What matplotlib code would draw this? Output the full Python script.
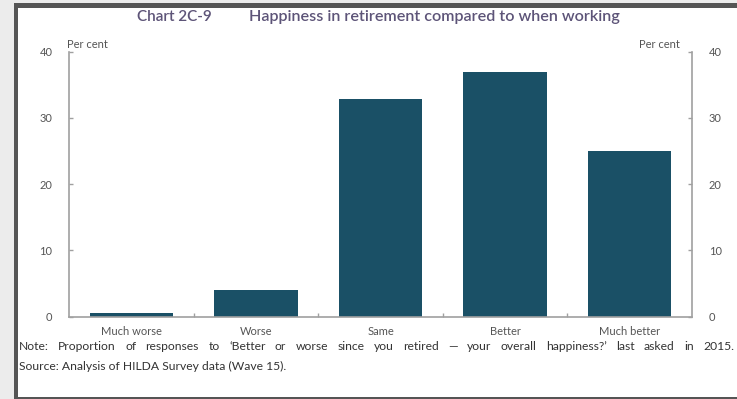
import matplotlib.pyplot as plt
from matplotlib.patches import Rectangle
from matplotlib.font_manager import FontProperties
from matplotlib.backends.backend_agg import RendererAgg
import numpy as np

# Happiness in retirement compared to when working
categorias = ['Much worse', 'Worse', 'Same', 'Better', 'Much better']
valores = [0.6, 4.0, 32.8, 36.9, 25.0]
yticks = [0, 10, 20, 30, 40]

nota = ('Note: Proportion of responses to \u2018Better or worse since you retired \u2014 '
        'your overall happiness?\u2019 last asked in 2015.')
fonte = 'Source: Analysis of HILDA Survey data (Wave 15).'

cor_barra = '#1a5066'
cor_eixo = '#a0a0a0'
cor_texto = '#555555'
cor_titulo = '#5d5478'

plt.rcParams['font.family'] = ['Lato', 'DejaVu Sans']

W, H = 737, 399
fig = plt.figure(figsize=(W / 100, H / 100), dpi=100)
fig.patch.set_facecolor('#ececec')

# painel branco e moldura cinza escura (esquerda, topo, base)
fig.add_artist(Rectangle((14 / W, 0), 1, 396 / H, transform=fig.transFigure,
                         facecolor='white', edgecolor='none', zorder=0))
for (x0, y0, w, h) in [(14, 0, 4, 396), (14, 391, 730, 5), (14, 0, 730, 2.5)]:
    fig.add_artist(Rectangle((x0 / W, y0 / H), w / W, h / H, transform=fig.transFigure,
                             facecolor='#555555', edgecolor='none', zorder=10))

ax = fig.add_axes([69 / W, 1 - 316.5 / H, 623 / W, 264.8 / H])
ax.set_zorder(3)
ax.set_facecolor('white')
x = np.arange(len(categorias))
ax.bar(x, valores, width=0.67, color=cor_barra, zorder=2)

ax.set_xlim(-0.5, len(categorias) - 0.5)
ax.set_ylim(0, 40)
ax.set_yticks(yticks)
ax.set_xticks(x)
ax.set_xticklabels(categorias)
ax.set_xticks(x[:-1] + 0.5, minor=True)

for s in ['left', 'right', 'bottom']:
    ax.spines[s].set_color(cor_eixo)
    ax.spines[s].set_linewidth(1.2)
ax.spines['top'].set_visible(False)

ax.tick_params(axis='x', which='major', length=0, pad=7, labelsize=8, labelcolor=cor_texto)
ax.tick_params(axis='x', which='minor', direction='in', length=3, color=cor_eixo, width=1)
ax.tick_params(axis='y', direction='in', length=3, color=cor_eixo, width=1, pad=12,
               labelsize=8, labelcolor=cor_texto, right=True, labelright=True)

fig.text(67 / W, 1 - 45 / H, 'Per cent', fontsize=8, color=cor_texto, va='center', ha='left',
         zorder=5)
fig.text(680 / W, 1 - 45 / H, 'Per cent', fontsize=8, color=cor_texto, va='center', ha='right',
         zorder=5)

# título
fig.text(137 / W, 1 - 17 / H, 'Chart 2C-9', fontsize=11, fontweight='semibold',
         color=cor_titulo, va='center', ha='left', zorder=5)
fig.text(249 / W, 1 - 17 / H, 'Happiness in retirement compared to when working', fontsize=11.6,
         fontweight='semibold', color=cor_titulo, va='center', ha='left', zorder=5)

# notas (a primeira linha justificada de 19 a 734 px)
medidor = RendererAgg(W, H, 100)
fp = FontProperties(family=['Lato', 'DejaVu Sans'], size=8.7)
palavras = nota.split(' ')
larguras = [medidor.get_text_width_height_descent(p, fp, ismath=False)[0] for p in palavras]
esq, dir = 19, 734
espaco = (dir - esq - sum(larguras)) / (len(palavras) - 1)
pos = esq
for p, w in zip(palavras, larguras):
    fig.text(pos / W, 1 - 347 / H, p, fontproperties=fp, color='#333333', va='center', ha='left',
             zorder=5)
    pos += w + espaco
fig.text(esq / W, 1 - 366 / H, fonte, fontproperties=fp, color='#333333', va='center', ha='left',
         zorder=5)

plt.savefig('out.png', dpi=100, facecolor=fig.get_facecolor())
